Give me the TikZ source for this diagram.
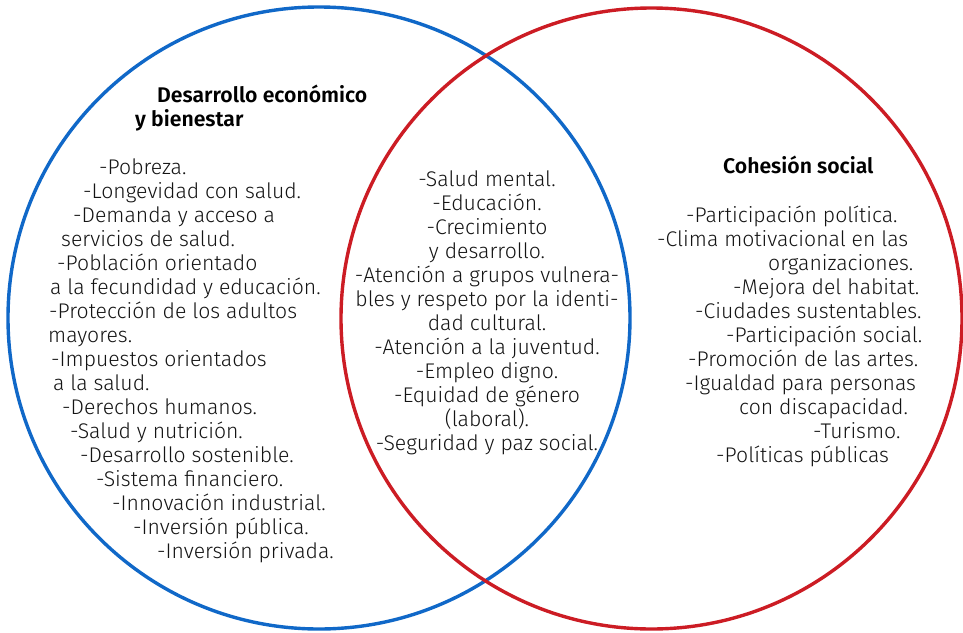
\documentclass[tikz,border=0pt]{standalone}
\usepackage{fontspec}
\setmainfont{Fira Sans Light}[BoldFont={Fira Sans SemiBold}]
\begin{document}
\begin{tikzpicture}[x=1pt,y=-1pt,
  txt/.style={anchor=base west,inner sep=0pt,font=\fontsize{21.2}{24}\selectfont,text=black!92},
  ctxt/.style={anchor=base,inner sep=0pt,font=\fontsize{21.2}{24}\selectfont,text=black!92},
  head/.style={anchor=base west,inner sep=0pt,font=\fontsize{21.2}{24}\selectfont\bfseries,text=black},
  ring/.style={line width=3.4pt}]
\definecolor{cblue}{RGB}{16,104,200}
\definecolor{cred}{RGB}{204,28,36}
\useasboundingbox (0,0) rectangle (963,632);
\fill[white] (0,0) rectangle (963,632);
\node[draw=cblue,ring,circle,minimum size=622pt,inner sep=0pt] (lc) at (319,318) {};
\node[draw=cred,ring,circle,minimum size=621pt,inner sep=0pt] (rc) at (651.5,318.5) {};
% left heading
\node[head] (h1) at (157,102) {Desarrollo económico};
\node[head] (h2) at (135,126) {y bienestar};
% left list
\node[txt] (l1) at (99,174) {-Pobreza.};
\node[txt] (l2) at (83,198) {-Longevidad con salud.};
\node[txt] (l3) at (73,222) {-Demanda y acceso a};
\node[txt] (l4) at (61,246) {servicios de salud.};
\node[txt] (l5) at (57,270) {-Población orientado};
\node[txt] (l6) at (50,294) {a la fecundidad y educación.};
\node[txt] (l7) at (49,318) {-Protección de los adultos};
\node[txt] (l8) at (48,342) {mayores.};
\node[txt] (l9) at (51,366) {-Impuestos orientados};
\node[txt] (l10) at (53,390) {a la salud.};
\node[txt] (l11) at (62,414) {-Derechos humanos.};
\node[txt] (l12) at (70,438) {-Salud y nutrición.};
\node[txt] (l13) at (80,462) {-Desarrollo sostenible.};
\node[txt] (l14) at (96,486) {-Sistema financiero.};
\node[txt] (l15) at (112,510) {-Innovación industrial.};
\node[txt] (l16) at (133,534) {-Inversión pública.};
\node[txt] (l17) at (157,558) {-Inversión privada.};
% middle list
\node[ctxt] (m1) at (487,186) {-Salud mental.};
\node[ctxt] (m2) at (487,210) {-Educación.};
\node[ctxt] (m3) at (487,234) {-Crecimiento};
\node[ctxt] (m4) at (487,258) {y desarrollo.};
\node[ctxt] (m5) at (487,282) {-Atención a grupos vulnera-};
\node[ctxt] (m6) at (487,306) {bles y respeto por la identi-};
\node[ctxt] (m7) at (487,330) {dad cultural.};
\node[ctxt] (m8) at (487,354) {-Atención a la juventud.};
\node[ctxt] (m9) at (487,378) {-Empleo digno.};
\node[ctxt] (m10) at (487,402) {-Equidad de género};
\node[ctxt] (m11) at (487,426) {(laboral).};
\node[ctxt] (m12) at (487,450) {-Seguridad y paz social.};
% right heading
\node[head] (h3) at (723,173) {Cohesión social};
% right list
\node[txt] (r1) at (686,222) {-Participación política.};
\node[txt] (r2) at (657,246) {-Clima motivacional en las};
\node[txt] (r3) at (768,270) {organizaciones.};
\node[txt] (r4) at (733,294) {-Mejora del habitat.};
\node[txt] (r5) at (695,318) {-Ciudades sustentables.};
\node[txt] (r6) at (726,342) {-Participación social.};
\node[txt] (r7) at (688,366) {-Promoción de las artes.};
\node[txt] (r8) at (685,390) {-Igualdad para personas};
\node[txt] (r9) at (739,414) {con discapacidad.};
\node[txt] (r10) at (813,438) {-Turismo.};
\node[txt] (r11) at (716,462) {-Políticas públicas};
\end{tikzpicture}
\end{document}
